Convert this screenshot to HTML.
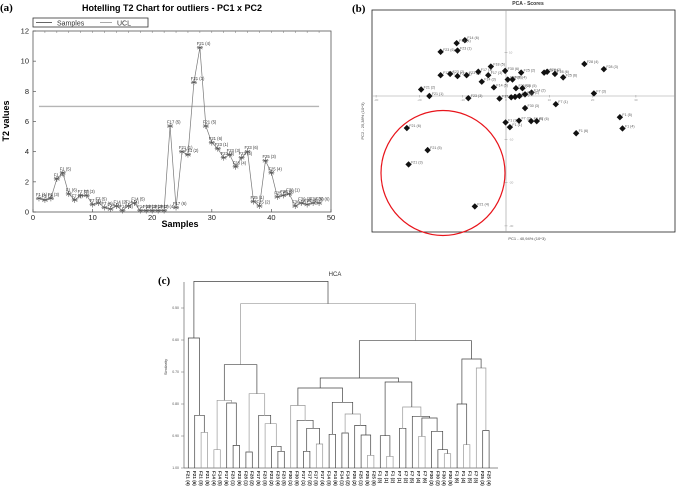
<!DOCTYPE html>
<html><head><meta charset="utf-8"><style>
html,body{margin:0;padding:0;background:#fff;}
svg{display:block;font-family:"Liberation Sans",Arial,sans-serif;}
</style></head><body>
<svg id="fig" width="676" height="489" viewBox="0 0 676 489" xmlns="http://www.w3.org/2000/svg">
<g id="pa">
<text x="0" y="11" font-family="Liberation Serif,serif" font-weight="bold" font-size="11">(a)</text>
<text x="172" y="11" text-anchor="middle" font-weight="bold" font-size="9">Hotelling T2 Chart for outliers - PC1 x PC2</text>
<g>
<rect x="33" y="18" width="115" height="9" fill="#fff" stroke="#333" stroke-width="0.8"/>
<line x1="36" y1="22.5" x2="52" y2="22.5" stroke="#666"/>
<text x="57" y="25.5" font-size="7" fill="#333">Samples</text>
<line x1="100" y1="22.5" x2="112" y2="22.5" stroke="#aaa"/>
<text x="117" y="25.5" font-size="7" fill="#333">UCL</text>
</g>
<rect x="33" y="31" width="298" height="181" fill="none" stroke="#555" stroke-width="0.8"/>
<text x="180" y="227" text-anchor="middle" font-weight="bold" font-size="9">Samples</text>
<text transform="translate(9,121) rotate(-90)" text-anchor="middle" font-weight="bold" font-size="9">T2 values</text>
</g>
<g id="pb">
<text x="352" y="12" font-family="Liberation Serif,serif" font-weight="bold" font-size="11">(b)</text>
<text x="528" y="5" text-anchor="middle" font-weight="bold" font-size="5" fill="#333">PCA - Scores</text>
<rect x="372" y="10" width="303" height="222" fill="none" stroke="#222" stroke-width="0.8"/>
<text x="527" y="240" text-anchor="middle" font-size="4" fill="#444">PC1 - 40,94% (10^3)</text>
<text transform="translate(364,121) rotate(-90)" text-anchor="middle" font-size="4" fill="#444">PC2 - 25,38% (10^3)</text>
</g>
<g id="pc">
<text x="158" y="284" font-family="Liberation Serif,serif" font-weight="bold" font-size="11">(c)</text>
<text x="335" y="276" text-anchor="middle" font-size="6" fill="#333">HCA</text>
<text transform="translate(167,367) rotate(-90)" text-anchor="middle" font-size="4" fill="#444">Similarity</text>
<line x1="184" y1="282" x2="184" y2="468" stroke="#666" stroke-width="0.7"/>
<line x1="184" y1="468" x2="498" y2="468" stroke="#666" stroke-width="0.7"/>
</g>
</svg>
<script>
// ---- Panel (a) data ----
const t2Samples = [1,2,3,4,5,6,7,8,9,10,11,12,13,14,15,16,17,18,19,20,21,22,23,24,25,26,27,28,29,30,31,32,33,34,35,36,37,38,39,40,41,42,43,44,45,46,47,48];
const t2Values = [0.9,0.8,0.9,2.2,2.6,1.2,0.8,1.1,1.1,0.5,0.6,0.3,0.2,0.4,0.1,0.4,0.6,0.1,0.1,0.1,0.1,0.1,5.7,0.3,4.0,3.8,8.6,10.9,5.7,4.6,4.2,3.6,3.8,3.0,3.6,4.0,0.7,0.4,3.4,2.6,1.0,1.1,1.2,0.4,0.6,0.5,0.6,0.6];
const t2Groups = ["F1","F7","F14","F17","F21","F23","F25","F30"];
const uclValue = 7;
const t2XTicks = [0,10,20,30,40,50];
const t2YTicks = [0,2,4,6,8,10,12];

// ---- Panel (b) data ----
const pcaX = [-9.5,-11.4,-15.1,-11.2,-3.5,-15.1,-12.9,-11.2,-9.1,-6.4,-4.1,-5.6,-2.8,-0.2,0.4,1.5,3.5,2.3,3.8,5.9,-1.5,1.2,2.1,3.1,4.4,8.8,9.5,11.3,13.2,18.1,22.6,20.3,-19.6,-17.7,-8.7,4.4,11.5,-0.1,0.9,3.0,5.8,7.1,26.3,26.9,16.2,-22.9,-18.1,-22.5,-7.2];
const pcaY = [12.9,12.2,10.2,10.5,6.8,4.8,5.1,4.6,4.8,5.6,4.8,3.3,2.0,5.8,3.8,3.8,5.4,1.8,1.8,0.8,-0.6,-0.3,-0.2,0,0.4,5.4,5.6,5.1,4.3,7.4,6.2,0.6,1.5,0,-0.5,-2.8,-1.9,-6.1,-7.2,-5.7,-5.8,-5.8,-4.9,-7.5,-8.6,-7.4,-12.5,-15.8,-25.5];
const pcaLabels = ["F14 (6)","F14 (4)","F23 (6)","F23 (1)","F18 (5)","F17 (2)","F23 (2)","F23 (4)","F23 (5)","F17 (1)","F17 (3)","F14 (3)","F14 (5)","F30 (6)","F30 (1)","F30 (4)","F25 (2)","F25 (1)","F25 (5)","F14 (2)","F17 (4)","F30 (5)","F30 (2)","F25 (6)","F14 (1)","F28 (1)","F28 (2)","F28 (6)","F25 (6)","F28 (4)","F28 (3)","F7 (3)","F21 (2)","F21 (1)","F23 (3)","F30 (3)","F7 (1)","F1 (3)","F1 (1)","F7 (2)","F7 (5)","F7 (6)","F1 (5)","F1 (4)","F1 (6)","F21 (6)","F21 (5)","F21 (3)","F21 (4)"];
const pcaXTicks = [-30,-20,-10,0,10,20,30];
const pcaYTicks = [-30,-20,-10,0,10];

// ---- Panel (c) data ----
const hcaLeaves = ["F21 (4)","F21 (6)","F21 (3)","F21 (5)","F14 (4)","F14 (5)","F17 (6)","F23 (1)","F23 (6)","F28 (1)","F28 (2)","F17 (5)","F23 (3)","F23 (2)","F23 (4)","F23 (5)","F30 (1)","F30 (6)","F17 (1)","F17 (2)","F17 (3)","F17 (4)","F14 (3)","F14 (6)","F14 (1)","F14 (2)","F25 (2)","F25 (1)","F25 (5)","F25 (6)","F1 (3)","F1 (1)","F1 (2)","F7 (1)","F7 (2)","F7 (5)","F7 (4)","F7 (6)","F30 (3)","F30 (2)","F30 (4)","F30 (5)","F1 (6)","F1 (4)","F1 (5)","F7 (3)","F25 (3)","F25 (4)"];
// merge k creates node 48+k
const mergeLeft  = [2,1,0,4,7,6,51,14,13,12,11,9,59,54,18,20,62,17,16,22,24,28,27,26,68,67,66,31,30,33,40,39,38,36,81,35,77,76,74,43,42,46,45,88,86,61,50];
const mergeRight = [3,48,49,5,8,52,53,15,55,56,57,10,58,60,19,21,63,64,65,23,25,29,69,70,71,72,73,32,75,34,41,78,79,37,80,82,83,84,85,44,87,47,89,90,91,92,93];
const mergeHeight= [0.8885,0.8354,0.5938,0.9427,0.9292,0.7969,0.7885,0.9479,0.9323,0.8615,0.8354,0.95,0.7677,0.6771,0.9479,0.925,0.876,0.851,0.8042,0.8948,0.8906,0.9604,0.8969,0.8667,0.8313,0.7948,0.75,0.9635,0.899,0.876,0.9552,0.9427,0.8854,0.901,0.8438,0.8385,0.8094,0.7313,0.7188,0.9271,0.8,0.8833,0.6875,0.6594,0.6021,0.4865,0.4167];
const hcaYTicks = [0.5,0.6,0.7,0.8,0.9,1.0];
</script>
<script>
const NS="http://www.w3.org/2000/svg";
function mk(tag,attrs,parent,text){const e=document.createElementNS(NS,tag);for(const k in attrs)e.setAttribute(k,attrs[k]);if(text!==undefined)e.textContent=text;parent.appendChild(e);return e;}
const pa=document.getElementById('pa'),pb=document.getElementById('pb'),pc=document.getElementById('pc');

// ===== Panel A =====
const xa=v=>33+v*(298/50), ya=v=>212-v*(181/12);
t2XTicks.forEach(t=>{
  const l=mk('line',{x1:xa(t),y1:212,x2:xa(t),y2:209,stroke:'#555','stroke-width':0.7},pa);
  
  
  const tx=mk('text',{x:xa(t),y:220,'text-anchor':'middle','font-size':7.5,fill:'#222'},pa,String(t));
  
  
});
for(let t=0;t<=50;t+=2){const l=mk('line',{x1:xa(t),y1:31,x2:xa(t),y2:33,stroke:'#777','stroke-width':0.5},pa);
  
  }
t2YTicks.forEach(t=>{
  const l=mk('line',{x1:33,y1:ya(t),x2:36,y2:ya(t),stroke:'#555','stroke-width':0.7},pa);
  
  
  const tx=mk('text',{x:29,y:ya(t)+2.5,'text-anchor':'end','font-size':7.5,fill:'#222'},pa,String(t));
  
  
});
const ucl=mk('line',{x1:xa(1),y1:ya(uclValue),x2:xa(48),y2:ya(uclValue),stroke:'#b5b5b5','stroke-width':1.3},pa);


const pts=t2Samples.map((s,i)=>xa(s)+','+ya(t2Values[i])).join(' ');
const sl=mk('polyline',{points:pts,fill:'none',stroke:'#777','stroke-width':0.7},pa);


t2Samples.forEach((s,i)=>{
  const cx=xa(s),cy=ya(t2Values[i]);
  const g=mk('g',{stroke:'#555','stroke-width':0.6},pa);
  
  
  [[0,3],[2.6,1.5],[2.6,-1.5]].forEach(d=>mk('line',{x1:cx-d[0],y1:cy-d[1],x2:cx+d[0],y2:cy+d[1]},g));
  mk('line',{x1:cx-3,y1:cy,x2:cx+3,y2:cy},g);
  const lab=t2Groups[Math.floor(i/6)]+' ('+(i%6+1)+')';
  const tx=mk('text',{x:cx-3,y:cy-2.5,'font-size':4.2,fill:'#333'},pa,lab);
  
  
});

// ===== Panel B =====
const xb=v=>506+v*4.33, yb=v=>96-v*4.33;
const vx=mk('line',{x1:506,y1:10,x2:506,y2:232,stroke:'#999','stroke-width':0.6},pb);


const hz=mk('line',{x1:372,y1:96,x2:675,y2:96,stroke:'#999','stroke-width':0.6},pb);


pcaXTicks.forEach(t=>{
  const l=mk('line',{x1:xb(t),y1:95,x2:xb(t),y2:97.5,stroke:'#999','stroke-width':0.5},pb);
  
  
  const tx=mk('text',{x:xb(t),y:101,'text-anchor':'middle','font-size':3,fill:'#999'},pb,String(t));
  
  
});
pcaYTicks.forEach(t=>{
  const l=mk('line',{x1:504.5,y1:yb(t),x2:507.5,y2:yb(t),stroke:'#999','stroke-width':0.5},pb);
  
  
  const tx=mk('text',{x:509,y:yb(t)+1,'font-size':3,fill:'#999'},pb,String(t));
  
  
});
pcaX.forEach((v,i)=>{
  const cx=xb(v),cy=yb(pcaY[i]),r=3.2;
  const d=mk('polygon',{points:`${cx},${cy-r} ${cx+r},${cy} ${cx},${cy+r} ${cx-r},${cy}`,fill:'#111'},pb);
  
  
  const tx=mk('text',{x:cx+2.5,y:cy-1,'font-size':3.6,fill:'#555'},pb,pcaLabels[i]);
  
  
});
const circ=mk('ellipse',{cx:443,cy:173,rx:62,ry:62.5,fill:'none',stroke:'#e8141b','stroke-width':1.2},pb);



// ===== Panel C =====
const xc=i=>188.3+i*6.4, yc=v=>468-(1-v)/0.1*32;
hcaYTicks.forEach(t=>{
  const l=mk('line',{x1:181,y1:yc(t),x2:184,y2:yc(t),stroke:'#666','stroke-width':0.5},pc);
  
  
  const tx=mk('text',{x:179,y:yc(t)+1.2,'text-anchor':'end','font-size':3.5,fill:'#555'},pc,t.toFixed(2));
  
  
});
const nx=[],nh=[];
hcaLeaves.forEach((lab,i)=>{
  nx[i]=xc(i);nh[i]=1.0;
  const tx=mk('text',{transform:`translate(${xc(i)-1.6},471) rotate(90)`,'font-size':4.6,fill:'#222','font-weight':'bold'},pc,lab);
  
  
});
mergeLeft.forEach((a,k)=>{
  const b=mergeRight[k],h=mergeHeight[k],id=hcaLeaves.length+k;
  const x1=nx[a],x2=nx[b],y=yc(h);
  const col=(k%3===0)?'#999':'#444';
  const p=mk('path',{d:`M${x1},${yc(nh[a])}V${y}H${x2}V${yc(nh[b])}`,fill:'none',stroke:col,'stroke-width':0.7},pc);
  
  
  nx[id]=(x1+x2)/2;nh[id]=h;
});
</script>
</body></html>
